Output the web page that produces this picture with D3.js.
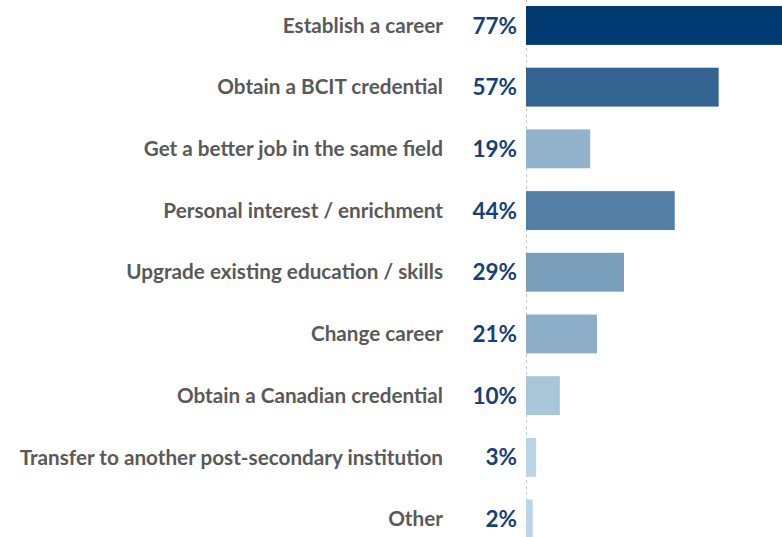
<!DOCTYPE html>
<html><head><meta charset="utf-8">
<script src="https://cdn.jsdelivr.net/npm/d3@7"></script>
<style>html,body{margin:0;padding:0;background:#fff;overflow:hidden}</style>
</head><body>
<svg id="chart" width="782" height="537"></svg>
<script>
const categories = ["Establish a career","Obtain a BCIT credential","Get a better job in the same field","Personal interest / enrichment","Upgrade existing education / skills","Change career","Obtain a Canadian credential","Transfer to another post-secondary institution","Other"];
const values = [77,57,19,44,29,21,10,3,2];

const svg = d3.select("#chart");
const W = 782, H = 537;
const x0 = 526;
const x = d3.scaleLinear().domain([0,100]).range([x0, x0+338]);
const y = d3.scaleBand().domain(categories).range([-5.4, 549.9]).paddingInner(0.37).paddingOuter(0.185);
const color = d3.scaleLinear().domain([2,77]).range(["#bcd6e6","#003a70"]);

svg.append("defs").append("clipPath").attr("id","clip")
  .append("rect").attr("x",0).attr("y",0).attr("width",W).attr("height",H);

svg.append("line").attr("x1",x0+0.5).attr("x2",x0+0.5).attr("y1",0).attr("y2",H)
  .attr("stroke","#c8c8c8").attr("stroke-width",1).attr("stroke-dasharray","3,3");

const data = categories.map((c,i)=>({c, v: values[i]}));

svg.append("g").attr("clip-path","url(#clip)").selectAll("rect").data(data).join("rect")
  .attr("x", x(0)).attr("y", d=>y(d.c)).attr("width", d=>x(d.v)-x(0)).attr("height", y.bandwidth())
  .attr("fill", d=>color(d.v));

svg.append("g").selectAll("text").data(data).join("text")
  .attr("x", 443).attr("y", d=>y(d.c)+y.bandwidth()/2).attr("dy","0.35em")
  .attr("text-anchor","end").attr("font-family","Lato, 'Open Sans', sans-serif").attr("font-weight","bold")
  .attr("font-size","20.7px").attr("fill","#595959").text(d=>d.c);

svg.append("g").selectAll("text").data(data).join("text")
  .attr("x", 517).attr("y", d=>y(d.c)+y.bandwidth()/2).attr("dy","0.36em")
  .attr("text-anchor","end").attr("font-family","Lato, 'Open Sans', sans-serif").attr("font-weight","bold")
  .attr("font-size","22.5px").attr("fill","#173f78").text(d=>d.v+"%");
</script>
</body></html>
